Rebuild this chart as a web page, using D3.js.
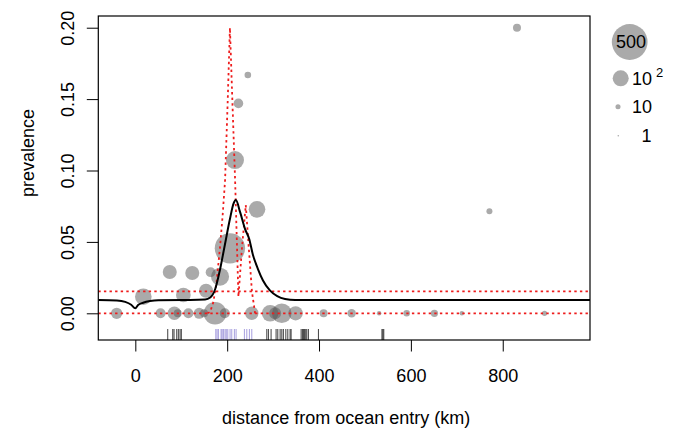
<!DOCTYPE html>
<html>
<head>
<meta charset="utf-8">
<script src="https://cdn.jsdelivr.net/npm/d3@7/dist/d3.min.js"></script>
<style>
  html, body { margin: 0; padding: 0; background: #fff; }
  svg { display: block; font-family: "Liberation Sans", Arial, Helvetica, sans-serif; }
</style>
</head>
<body>
<svg id="chart" width="676" height="429"></svg>
<script>
// Sampling sites: distance from ocean entry (km), observed prevalence, fish sampled
const siteKm = [831, 245, 224.5, 217, 265, 771, 206, 75, 124, 164, 184.5, 17.4, 104.6, 154,
  -40.6, 55, 85, 92.4, 115.5, 139, 149.7, 173.6, 194.8, 253.6, 293.5, 304.4, 318.9, 349,
  410, 471, 530.9, 590.8, 651.2, 711, 891];
const sitePrev = [0.200, 0.1669, 0.147, 0.1073, 0.0728, 0.0714, 0.0455, 0.0289, 0.0282, 0.0288, 0.0256, 0.0116, 0.0128, 0.0158,
  0, 0, 0, 0, 0, 0, 0, 0, 0, 0, 0, 0, 0, 0,
  0, 0, 0, 0, 0, 0, 0];
const siteN = [25, 17, 36, 127, 108, 14, 360, 77, 77, 38, 127, 108, 84, 77,
  50, 39, 70, 25, 39, 47, 25, 200, 39, 70, 108, 56, 150, 80,
  25, 28, 8, 17, 21, 8, 11];

// Fitted prevalence curve along the river
const fitKm = [-80.6, -40, -22, -9, 0, 6, 17, 32, 50, 119, 152, 163, 174, 184, 195, 206, 214, 219,
  228, 239, 248, 256, 267, 278, 293, 309, 326, 348, 990];
const fitPrev = [0.0093, 0.0090, 0.0080, 0.0060, 0.0035, 0.0058, 0.0074, 0.0086, 0.0092, 0.0093, 0.0096, 0.0110,
  0.0170, 0.0300, 0.0480, 0.0660, 0.0770, 0.0793, 0.0710, 0.0590, 0.0520, 0.0410, 0.0310, 0.0230,
  0.0160, 0.0120, 0.0100, 0.0093, 0.0093];

// Confidence limits: flat levels and the excursion around the peak
const ciLevels = [0, 0.0154];
const ciKm = [157, 163, 170, 177, 184.5, 190, 195.4, 201, 206, 211.5, 217.3, 224.5, 232, 240.5, 247, 254, 260.8];
const ciPrev = [0, 0.001, 0.008, 0.022, 0.0466, 0.068, 0.093, 0.147, 0.200, 0.147, 0.093, 0.0116, 0.045, 0.0758, 0.046, 0.015, 0];

// Rug: sampled fish locations, negative (black) and positive (blue)
const rugNegKm = [70.6, 81.5, 84.3, 90.2, 93.7, 97.4, 100.2,
  286.3, 289.8, 295.6, 306.5, 310.2, 315.3, 319, 322.4, 327.7, 332, 337, 339.2,
  361, 363.8, 366, 368.2, 371, 373.4, 376.9, 398.7, 537, 539, 541];
const rugPosKm = [175.2, 178, 180.9, 186.7, 189, 191.8, 195.4, 198, 201.3, 206.3, 210, 215.7, 219.4,
  237.5, 242.7, 248.4, 253.6];

// Axis ticks and labels
const xTicks = [0, 200, 400, 600, 800];
const yTicks = [0, 0.05, 0.10, 0.15, 0.20];
const yTickLabels = ["0.00", "0.05", "0.10", "0.15", "0.20"];

// Size legend
const legendN = [500, 100, 10, 1];
const legendLabels = ["500", "10", "10", "1"];

const xDomain = [-80.6, 990];
const yDomain = [-0.0187, 0.2082];

const svg = d3.select("#chart");
const plot = { left: 98.3, right: 590, top: 16, bottom: 340 };

const x = d3.scaleLinear().domain(xDomain).range([plot.left, plot.right]);
const y = d3.scaleLinear().domain(yDomain).range([plot.bottom, plot.top]);
const r = d3.scaleSqrt().domain([0, 500]).range([0, 0.8 * Math.sqrt(500)]);

const fontSize = 18;
const pointFill = "#555555";
const pointOpacity = 0.5;

svg.append("clipPath").attr("id", "plotClip")
  .append("rect")
  .attr("x", plot.left).attr("y", plot.top)
  .attr("width", plot.right - plot.left).attr("height", plot.bottom - plot.top);

const inner = svg.append("g").attr("clip-path", "url(#plotClip)");

// Rug along the bottom of the panel
inner.append("g").selectAll("line").data(rugNegKm).join("line")
  .attr("x1", d => x(d)).attr("x2", d => x(d))
  .attr("y1", 329).attr("y2", plot.bottom)
  .attr("stroke", "#000").attr("stroke-opacity", 0.75).attr("stroke-width", 1);
inner.append("g").selectAll("line").data(rugPosKm).join("line")
  .attr("x1", d => x(d)).attr("x2", d => x(d))
  .attr("y1", 329).attr("y2", plot.bottom)
  .attr("stroke", "#6a5fc8").attr("stroke-opacity", 0.6).attr("stroke-width", 1);

// Site points sized by sample size
const sites = siteKm.map((d, i) => ({ km: d, p: sitePrev[i], n: siteN[i] }));
inner.append("g").selectAll("circle").data(sites).join("circle")
  .attr("cx", d => x(d.km)).attr("cy", d => y(d.p)).attr("r", d => r(d.n))
  .attr("fill", pointFill).attr("fill-opacity", pointOpacity);

// Confidence limits (red dotted)
const dotted = { stroke: "#ee1c1c", width: 1.8, dash: "2.4,3.2" };
inner.append("g").selectAll("line").data(ciLevels).join("line")
  .attr("x1", plot.left).attr("x2", plot.right)
  .attr("y1", d => y(d)).attr("y2", d => y(d))
  .attr("stroke", dotted.stroke).attr("stroke-width", dotted.width)
  .attr("stroke-dasharray", dotted.dash);

const ciLine = d3.line().x(d => x(d[0])).y(d => y(d[1])).curve(d3.curveLinear);
inner.append("path")
  .datum(ciKm.map((d, i) => [d, ciPrev[i]]))
  .attr("d", ciLine)
  .attr("fill", "none").attr("stroke", dotted.stroke).attr("stroke-width", dotted.width)
  .attr("stroke-dasharray", dotted.dash);

// Fitted curve
const fitLine = d3.line().x(d => x(d[0])).y(d => y(d[1])).curve(d3.curveMonotoneX);
inner.append("path")
  .datum(fitKm.map((d, i) => [d, fitPrev[i]]))
  .attr("d", fitLine)
  .attr("fill", "none").attr("stroke", "#000").attr("stroke-width", 2);

// Axes
const xAxis = svg.append("g").attr("transform", `translate(0,${plot.bottom})`)
  .call(d3.axisBottom(x).tickValues(xTicks).tickFormat(d3.format("d")).tickSize(11.5).tickPadding(18));
const yAxis = svg.append("g").attr("transform", `translate(${plot.left},0)`)
  .call(d3.axisLeft(y).tickValues(yTicks).tickFormat((d, i) => yTickLabels[i]).tickSize(11.5));
[xAxis, yAxis].forEach(a => {
  a.select(".domain").remove();
  a.selectAll(".tick line").attr("stroke", "#000").attr("stroke-width", 1);
  a.selectAll("text").attr("font-size", fontSize).attr("fill", "#000")
    .attr("font-family", "Liberation Sans, Arial, sans-serif");
});
yAxis.selectAll(".tick text")
  .attr("x", null).attr("dy", null)
  .attr("text-anchor", "middle")
  .attr("transform", "translate(-24,0) rotate(-90)")
  .attr("y", 0);

// Panel frame
svg.append("rect")
  .attr("x", plot.left).attr("y", plot.top)
  .attr("width", plot.right - plot.left).attr("height", plot.bottom - plot.top)
  .attr("fill", "none").attr("stroke", "#000").attr("stroke-width", 1.2);

// Axis titles
svg.append("text")
  .attr("x", (plot.left + plot.right) / 2 + 2).attr("y", 424)
  .attr("text-anchor", "middle").attr("font-size", fontSize)
  .text("distance from ocean entry (km)");
svg.append("text")
  .attr("transform", "translate(34,153) rotate(-90)")
  .attr("text-anchor", "middle").attr("font-size", fontSize)
  .text("prevalence");

// Legend for point sizes
const legendPos = [
  { cx: 629.7, cy: 42, tx: 631, ty: 47.5, anchor: "middle" },
  { cx: 620.7, cy: 78.3, tx: 632, ty: 84.5, anchor: "start" },
  { cx: 618, cy: 106.7, tx: 632, ty: 112.5, anchor: "start" },
  { cx: 618.3, cy: 135.7, tx: 641.5, ty: 141.5, anchor: "start" }
];
const legend = svg.append("g");
legendN.forEach((n, i) => {
  const p = legendPos[i];
  legend.append("circle").attr("cx", p.cx).attr("cy", p.cy).attr("r", r(n))
    .attr("fill", pointFill).attr("fill-opacity", pointOpacity);
  const t = legend.append("text").attr("x", p.tx).attr("y", p.ty)
    .attr("text-anchor", p.anchor).attr("font-size", fontSize).text(legendLabels[i]);
  if (i === 1) {
    t.append("tspan").attr("dx", 4).attr("dy", -8).attr("font-size", 13).text("2");
  }
});
</script>
</body>
</html>
